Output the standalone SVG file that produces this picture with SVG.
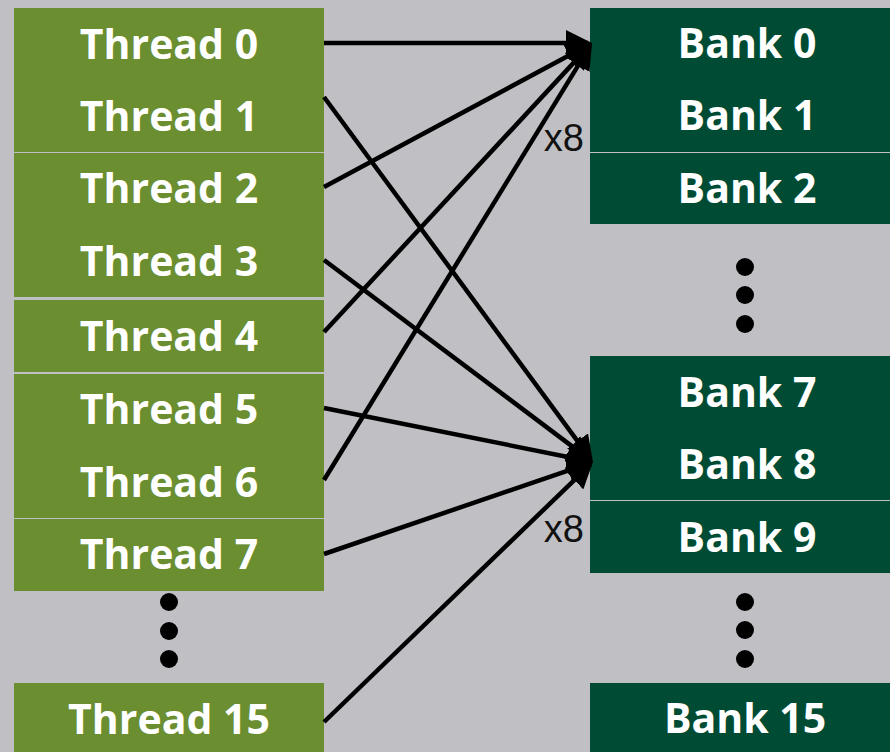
<svg xmlns="http://www.w3.org/2000/svg" width="890" height="752" viewBox="0 0 890 752">
  <style>
    .thread { fill: #6A8E30; }
    .bank { fill: #004B33; }
    .label { font-family: "Open Sans", "Noto Sans", "DejaVu Sans", sans-serif; font-weight: 700; font-size: 41px; fill: #FFFFFF; text-anchor: middle; }
    .mult { font-family: "Liberation Sans", Arial, sans-serif; font-size: 38px; fill: #111111; text-anchor: end; }
    .link { stroke: #000000; stroke-width: 4.5; fill: none; marker-end: url(#head); }
    .dot { fill: #000000; }
  </style>
  <defs>
    <marker id="head" viewBox="0 0 26 26" refX="22" refY="13" markerWidth="26" markerHeight="26" markerUnits="userSpaceOnUse" orient="auto">
      <path d="M0,0 L26,13 L0,26 z" fill="#000000"/>
    </marker>
  </defs>

  <rect width="890" height="752" fill="#C0BFC4"/>

  <!-- threads -->
  <g id="thread-0"><rect class="thread" x="14" y="8" width="310" height="72"/><text class="label" x="169" y="59">Thread 0</text></g>
  <g id="thread-1"><rect class="thread" x="14" y="80" width="310" height="72"/><text class="label" x="169" y="131">Thread 1</text></g>
  <g id="thread-2"><rect class="thread" x="14" y="153" width="310" height="72"/><text class="label" x="169" y="203">Thread 2</text></g>
  <g id="thread-3"><rect class="thread" x="14" y="225" width="310" height="72"/><text class="label" x="169" y="276">Thread 3</text></g>
  <g id="thread-4"><rect class="thread" x="14" y="300" width="310" height="72"/><text class="label" x="169" y="351">Thread 4</text></g>
  <g id="thread-5"><rect class="thread" x="14" y="374" width="310" height="72"/><text class="label" x="169" y="424">Thread 5</text></g>
  <g id="thread-6"><rect class="thread" x="14" y="446" width="310" height="72"/><text class="label" x="169" y="497">Thread 6</text></g>
  <g id="thread-7"><rect class="thread" x="14" y="519" width="310" height="72"/><text class="label" x="169" y="569">Thread 7</text></g>
  <g id="thread-dots">
    <circle class="dot" cx="169" cy="602" r="9"/>
    <circle class="dot" cx="169" cy="631" r="9"/>
    <circle class="dot" cx="169" cy="659" r="9"/>
  </g>
  <g id="thread-15"><rect class="thread" x="14" y="683" width="310" height="70"/><text class="label" x="169" y="734">Thread 15</text></g>

  <!-- banks -->
  <g id="bank-0"><rect class="bank" x="590" y="8" width="300" height="72"/><text class="label" x="747" y="58">Bank 0</text></g>
  <g id="bank-1"><rect class="bank" x="590" y="80" width="300" height="72"/><text class="label" x="747" y="130">Bank 1</text></g>
  <g id="bank-2"><rect class="bank" x="590" y="153" width="300" height="71"/><text class="label" x="747" y="203">Bank 2</text></g>
  <g id="bank-dots-upper">
    <circle class="dot" cx="745" cy="267" r="9"/>
    <circle class="dot" cx="745" cy="295" r="9"/>
    <circle class="dot" cx="745" cy="324" r="9"/>
  </g>
  <g id="bank-7"><rect class="bank" x="590" y="356" width="300" height="72"/><text class="label" x="747" y="407">Bank 7</text></g>
  <g id="bank-8"><rect class="bank" x="590" y="428" width="300" height="72"/><text class="label" x="747" y="479">Bank 8</text></g>
  <g id="bank-9"><rect class="bank" x="590" y="501" width="300" height="72"/><text class="label" x="747" y="552">Bank 9</text></g>
  <g id="bank-dots-lower">
    <circle class="dot" cx="745" cy="602" r="9"/>
    <circle class="dot" cx="745" cy="630" r="9"/>
    <circle class="dot" cx="745" cy="659" r="9"/>
  </g>
  <g id="bank-15"><rect class="bank" x="590" y="683" width="300" height="70"/><text class="label" x="745" y="733">Bank 15</text></g>

  <!-- connectors -->
  <g id="connectors">
    <line class="link" x1="324" y1="43" x2="588" y2="43"/>
    <line class="link" x1="324" y1="187" x2="588.5" y2="44.9"/>
    <line class="link" x1="324" y1="332" x2="589.3" y2="45.9"/>
    <line class="link" x1="324" y1="480" x2="589.9" y2="46.4"/>
    <line class="link" x1="324" y1="97" x2="590.6" y2="458.8"/>
    <line class="link" x1="324" y1="260" x2="589.8" y2="459.6"/>
    <line class="link" x1="324" y1="408" x2="589.1" y2="461.2"/>
    <line class="link" x1="324" y1="554" x2="589.2" y2="463.3"/>
    <line class="link" x1="324" y1="722" x2="590.1" y2="464.8"/>
    <text class="mult" x="584" y="151">x8</text>
    <text class="mult" x="584" y="542">x8</text>
  </g>
</svg>
